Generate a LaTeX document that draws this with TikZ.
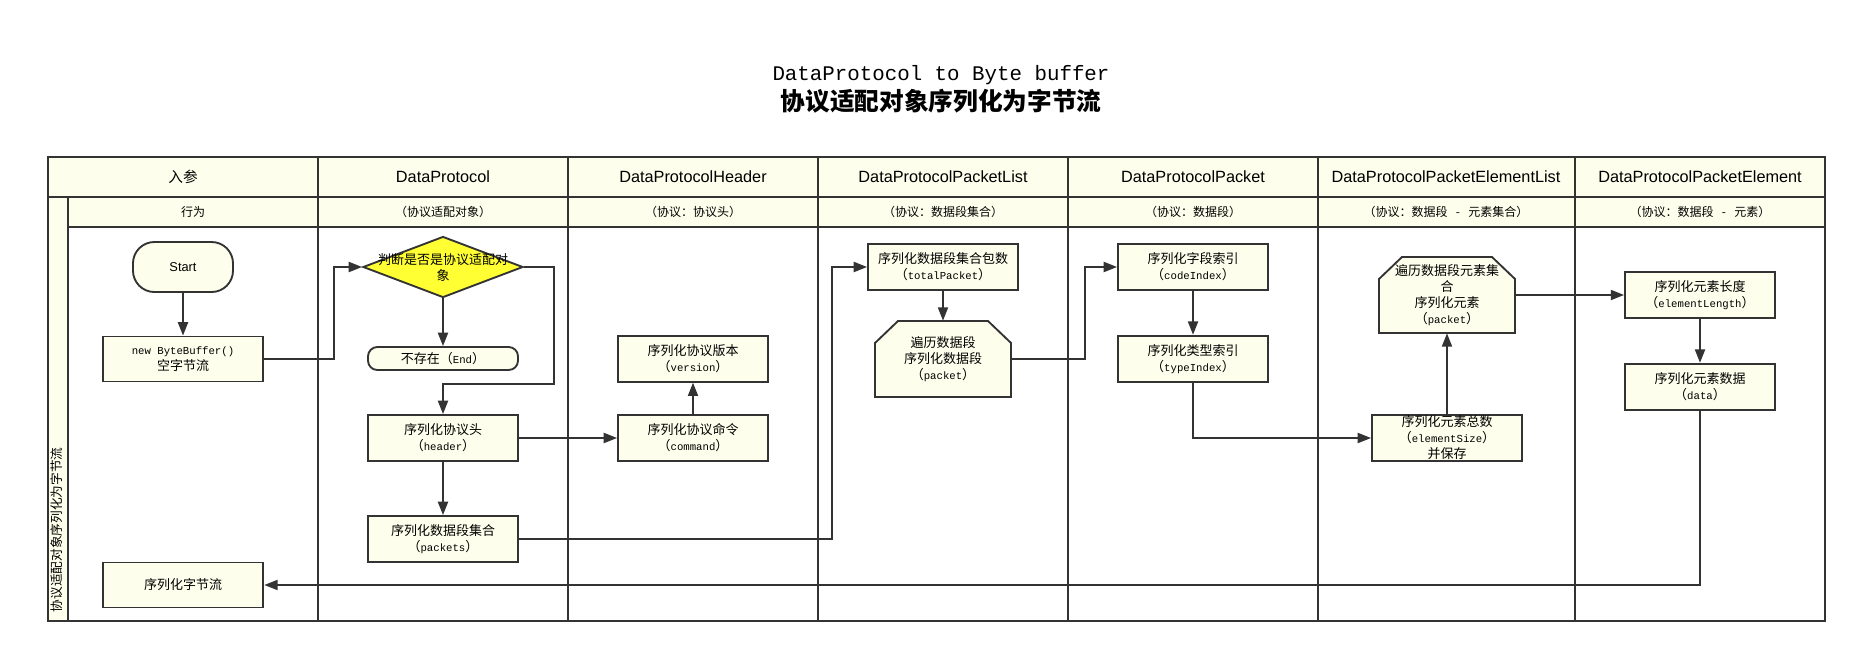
\documentclass[tikz,border=0pt]{standalone}
\usepackage{fontspec}
\setmainfont{Liberation Sans}
\setmonofont{Liberation Mono}
\newfontfamily\cjk{Noto Sans CJK SC}
\usetikzlibrary{shapes.geometric,arrows.meta}
\definecolor{boxcream}{RGB}{254,254,236}
\definecolor{lineblack}{RGB}{51,51,51}
\definecolor{decyellow}{RGB}{255,255,51}
\newcommand{\entxt}[1]{{\ttfamily\fontsize{8pt}{12pt}\selectfont #1}}
\newcommand{\dashgap}{\hspace{0.7em}-\hspace{0.7em}}

\begin{document}
\begin{tikzpicture}[x=0.75pt, y=-0.75pt,
  >={Triangle[length=10pt,width=7.5pt]},   % Pfeilspitzen
  frame/.style={draw=lineblack, line width=1.4pt},
  conn/.style={->, draw=lineblack, line width=1.4pt},
  boxtxt/.style={align=center, inner sep=0pt, font=\cjk\fontsize{9.75pt}{12pt}\selectfont},
  stepbox/.style={boxtxt, rectangle, draw=lineblack, line width=1.4pt, fill=boxcream,
    minimum width=112.5pt, minimum height=34.5pt},
  startbox/.style={stepbox, rounded corners=16pt, minimum width=75pt, minimum height=37.5pt,
    font=\fontsize{9.6pt}{12pt}\selectfont},
  endbox/.style={stepbox, rounded corners=7pt, minimum height=17.25pt},
  decision/.style={diamond, draw=lineblack, line width=1.4pt, fill=decyellow,
    minimum width=120pt, minimum height=45.75pt, inner sep=0pt},
  loopbox/.style={boxtxt, rectangle, minimum width=102pt, minimum height=57pt},
  loopshape/.pic={\draw[frame, fill=boxcream] (-68,38) -- (-68,-16) -- (-45,-38) -- (45,-38)
    -- (68,-16) -- (68,38) -- cycle;},
  lanehead/.style={font=\fontsize{12.2pt}{14pt}\selectfont},
  lanesub/.style={font=\cjk\fontsize{9pt}{11pt}\selectfont}]
\useasboundingbox (0,0) rectangle (1857,654);

% Titel
\node[font=\ttfamily\fontsize{15.6pt}{18pt}\selectfont] (ttl1) at (941,75) {DataProtocol to Byte buffer};
\node[font=\cjk\bfseries\fontsize{18.5pt}{22pt}\selectfont] (ttl2) at (941,101) {协议适配对象序列化为字节流};

% Tabelle
\fill[boxcream] (48,157) rectangle (1825,197);
\fill[boxcream] (68,197) rectangle (1825,227);
\fill[boxcream] (48,197) rectangle (68,621);
\draw[frame] (48,157) rectangle (1825,621);
\draw[frame] (48,197) -- (1825,197);
\draw[frame] (68,227) -- (1825,227);
\draw[frame] (68,197) -- (68,621);
\foreach \x in {318,568,818,1068,1318,1575} \draw[frame] (\x,157) -- (\x,621);

% Spaltenkoepfe
\foreach \hx/\sx/\hd/\sb [count=\i] in {183/193/{\cjk\fontsize{11pt}{14pt}\selectfont 入参}/行为,
    443/443/DataProtocol/（协议适配对象）,
    693/693/DataProtocolHeader/（协议：协议头）,
    943/943/DataProtocolPacketList/（协议：数据段集合）,
    1193/1193/DataProtocolPacket/（协议：数据段）,
    1446/1446/DataProtocolPacketElementList/（协议：数据段\dashgap 元素集合）,
    1700/1700/DataProtocolPacketElement/（协议：数据段\dashgap 元素）} {
  \node[lanehead] (head\i) at (\hx,177) {\hd};
  \node[lanesub] (sub\i) at (\sx,212) {\sb};
}
\node[rotate=90, anchor=west, font=\cjk\fontsize{9.5pt}{11pt}\selectfont] (lane) at (57,617) {协议适配对象序列化为字节流};

% Knoten
\node[startbox] (start) at (183,267) {Start};
\node[stepbox, minimum width=120.5pt, minimum height=33.75pt] (buf) at (183,359) {\entxt{new ByteBuffer()}\\空字节流};
\node[decision] (chk) at (443,267) {};
\node[boxtxt] (chktxt) at (chk.center) {判断是否是协议适配对\\象};
\node[endbox] (stop) at (443,358.5) {不存在（\entxt{End}）};
\node[stepbox] (hdr) at (443,438) {序列化协议头\\（\entxt{header}）};
\node[stepbox] (pkts) at (443,539) {序列化数据段集合\\（\entxt{packets}）};
\node[stepbox] (ver) at (693,358.7) {序列化协议版本\\（\entxt{version}）};
\node[stepbox] (cmd) at (693,438) {序列化协议命令\\（\entxt{command}）};
\node[stepbox] (total) at (943,267) {序列化数据段集合包数\\（\entxt{totalPacket}）};
\pic at (943,359) {loopshape};
\node[loopbox] (pkloop) at (943,359) {遍历数据段\\序列化数据段\\（\entxt{packet}）};
\node[stepbox] (code) at (1193,267) {序列化字段索引\\（\entxt{codeIndex}）};
\node[stepbox] (type) at (1193,358.7) {序列化类型索引\\（\entxt{typeIndex}）};
\node[stepbox] (esize) at (1447,438) {序列化元素总数\\（\entxt{elementSize}）\\并保存};
\pic at (1447,295) {loopshape};
\node[loopbox] (elloop) at (1447,295) {遍历数据段元素集\\合\\序列化元素\\（\entxt{packet}）};
\node[stepbox] (elen) at (1700,295) {序列化元素长度\\（\entxt{elementLength}）};
\node[stepbox] (edata) at (1700,386.7) {序列化元素数据\\（\entxt{data}）};
\node[stepbox, minimum width=120.5pt, minimum height=33.75pt] (res) at (183,585) {序列化字节流};

% Verbindungen
\draw[conn] (start) -- (buf);
\draw[conn] (buf.east) -- ++(70,0) |- (chk.west);
\draw[conn] (chk) -- (stop);
\draw[conn] (chk.east) -- ++(30,0) |- ([yshift=22.5pt]hdr.north) -- (hdr.north);
\draw[conn] (hdr) -- (pkts);
\draw[conn] (hdr) -- (cmd);
\draw[conn] (cmd) -- (ver);
\draw[conn] (pkts.east) -| ([xshift=-26pt]total.west) -- (total.west);
\draw[conn] (total) -- (pkloop);
\draw[conn] (pkloop.east) -| ([xshift=-24pt]code.west) -- (code.west);
\draw[conn] (code) -- (type);
\draw[conn] (type.south) |- (esize.west);
\draw[conn] (esize) -- (elloop);
\draw[conn] (elloop) -- (elen);
\draw[conn] (elen) -- (edata);
\draw[conn] (edata.south) |- (res.east);
\end{tikzpicture}
\end{document}
